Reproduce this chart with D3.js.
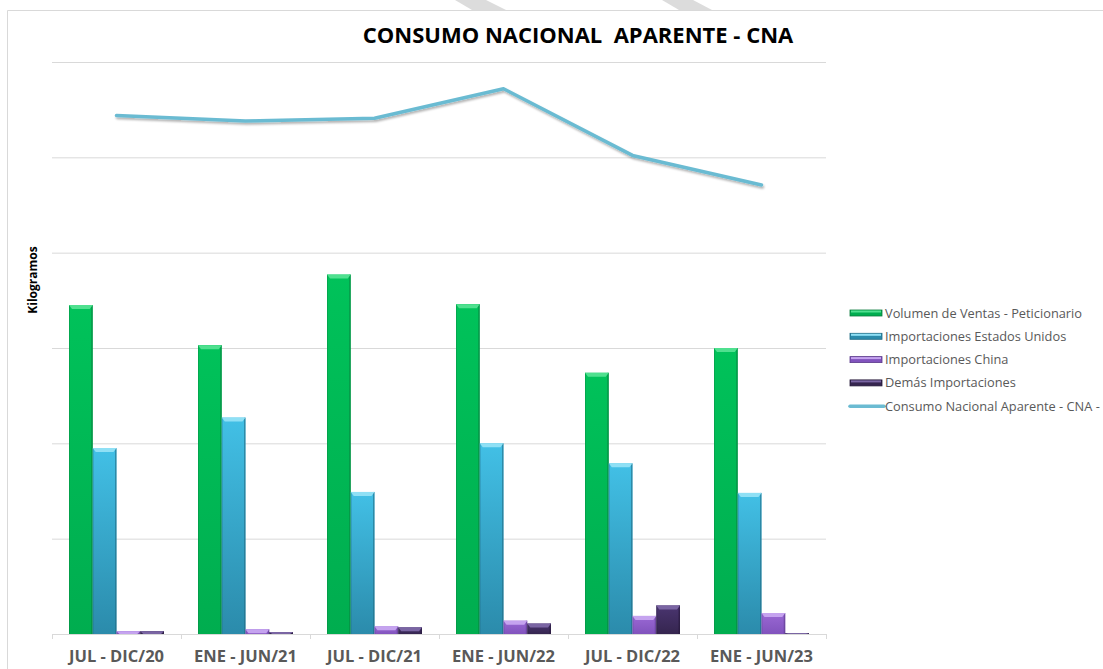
<!DOCTYPE html>
<html>
<head>
<meta charset="utf-8">
<script src="https://cdn.jsdelivr.net/npm/d3@7"></script>
<style>
  body { margin: 0; background: #fff; }
  svg { display: block; font-family: "Open Sans", sans-serif; }
</style>
</head>
<body>
<div id="chart"></div>
<script>
// Chart values (kilogram units, y axis unlabeled)
const categories = ['JUL - DIC/20', 'ENE - JUN/21', 'JUL - DIC/21', 'ENE - JUN/22', 'JUL - DIC/22', 'ENE - JUN/23'];
const ventas = [345, 303, 377, 346, 274, 300];
const importUSA = [195, 227, 149, 200, 179, 148];
const importChina = [3, 5, 8, 14, 19, 22];
const demasImport = [3, 2, 7, 11, 30, 1];
const cna = [544, 538, 541, 572, 502, 471];
const yTicks = [0, 100, 200, 300, 400, 500, 600];

const seriesNames = ['Volumen de Ventas - Peticionario', 'Importaciones Estados Unidos', 'Importaciones China', 'Demás Importaciones'];
const lineName = 'Consumo Nacional Aparente - CNA -';

const width = 1103;
const height = 669;
const plot = { left: 52, right: 826, top: 62, bottom: 634 };

const colors = [
  { top: '#00c25a', bottom: '#00ad4f', bevel: '#4fe08f', edge: '#0a7a3c' },
  { top: '#42c0e6', bottom: '#2b8bab', bevel: '#8fe0f5', edge: '#1f6a84' },
  { top: '#9a68d4', bottom: '#8153bd', bevel: '#c5a3ef', edge: '#5b3a8a' },
  { top: '#4a3570', bottom: '#35254f', bevel: '#7a65a3', edge: '#241838' }
];
const lineColor = '#6bbbd2';

const svg = d3.select('#chart')
  .append('svg')
  .attr('width', width)
  .attr('height', height);

const defs = svg.append('defs');
colors.forEach((c, i) => {
  const grad = defs.append('linearGradient')
    .attr('id', 'grad' + i)
    .attr('x1', 0).attr('y1', 0).attr('x2', 0).attr('y2', 1);
  grad.append('stop').attr('offset', '0%').attr('stop-color', c.top);
  grad.append('stop').attr('offset', '100%').attr('stop-color', c.bottom);
});
const shadow = defs.append('filter').attr('id', 'lineShadow')
  .attr('x', '-5%').attr('y', '-50%').attr('width', '110%').attr('height', '200%');
shadow.append('feDropShadow')
  .attr('dx', 1).attr('dy', 2).attr('stdDeviation', 1.2)
  .attr('flood-color', '#000').attr('flood-opacity', 0.3);

// watermark stripes above the chart frame
const stripes = [[455, 486, 506, 472], [662, 693, 712, 679]];
svg.selectAll('.stripe')
  .data(stripes)
  .enter()
  .append('polygon')
  .attr('points', d => `${d[0]},0 ${d[1]},0 ${d[2]},10 ${d[3]},10`)
  .style('fill', '#dcdcdc');

// chart frame
svg.append('path')
  .attr('d', `M7.5,${height} L7.5,10.5 L${width},10.5`)
  .style('fill', 'none')
  .style('stroke', '#d9d9d9');

// scales
const x = d3.scaleBand()
  .domain(categories)
  .range([plot.left, plot.right]);

const xInner = d3.scaleBand()
  .domain(d3.range(seriesNames.length))
  .range([17, x.bandwidth() - 17]);

const y = d3.scaleLinear()
  .domain([0, 600])
  .range([plot.bottom, plot.top]);

// gridlines
svg.append('g')
  .attr('class', 'grid')
  .attr('transform', `translate(${plot.left},0)`)
  .call(d3.axisLeft(y).tickValues(yTicks).tickSize(-(plot.right - plot.left)).tickFormat(''))
  .call(g => g.select('.domain').remove())
  .call(g => g.selectAll('line').attr('stroke', '#d9d9d9'));

// bars
const seriesData = [ventas, importUSA, importChina, demasImport];
seriesData.forEach((vals, s) => {
  const c = colors[s];
  const grp = svg.append('g').attr('class', 'series-' + s);
  vals.forEach((v, i) => {
    const bx = x(categories[i]) + xInner(s);
    const bw = xInner.bandwidth();
    const by = y(v);
    const bh = y(0) - y(v);
    grp.append('rect')
      .attr('x', bx).attr('y', by)
      .attr('width', bw).attr('height', bh)
      .style('fill', `url(#grad${s})`);
    // right edge shading
    grp.append('rect')
      .attr('x', bx + bw - 1.5).attr('y', by)
      .attr('width', 1.5).attr('height', bh)
      .style('fill', c.edge).style('opacity', 0.6);
    // left edge shading
    grp.append('rect')
      .attr('x', bx).attr('y', by)
      .attr('width', 1).attr('height', bh)
      .style('fill', c.edge).style('opacity', 0.35);
    // top bevel
    const bev = Math.min(4, bh);
    grp.append('polygon')
      .attr('points', `${bx},${by} ${bx + bw},${by} ${bx + bw - 3},${by + bev} ${bx + 3},${by + bev}`)
      .style('fill', c.bevel);
  });
});

// x axis
const xAxis = svg.append('g')
  .attr('transform', `translate(0,${plot.bottom})`);
xAxis.append('line')
  .attr('x1', plot.left).attr('x2', plot.right)
  .attr('y1', 0.5).attr('y2', 0.5)
  .style('stroke', '#d9d9d9');
xAxis.selectAll('.tick-mark')
  .data(categories.concat(['end']))
  .enter()
  .append('line')
  .attr('x1', (d, i) => plot.left + i * x.bandwidth() + 0.5)
  .attr('x2', (d, i) => plot.left + i * x.bandwidth() + 0.5)
  .attr('y1', 0).attr('y2', 5)
  .style('stroke', '#d9d9d9');
xAxis.selectAll('.cat-label')
  .data(categories)
  .enter()
  .append('text')
  .attr('x', d => x(d) + x.bandwidth() / 2)
  .attr('y', 28)
  .attr('text-anchor', 'middle')
  .style('font-size', '16.5px')
  .style('font-weight', 'bold')
  .style('fill', '#595959')
  .text(d => d);

// CNA line
const line = d3.line()
  .x((d, i) => x(categories[i]) + x.bandwidth() / 2)
  .y(d => y(d));

svg.append('path')
  .datum(cna)
  .attr('d', line)
  .style('fill', 'none')
  .style('stroke', lineColor)
  .style('stroke-width', 3.5)
  .style('stroke-linecap', 'round')
  .style('stroke-linejoin', 'round')
  .attr('filter', 'url(#lineShadow)');

// title
svg.append('text')
  .attr('x', 578)
  .attr('y', 43)
  .attr('text-anchor', 'middle')
  .style('font-size', '22px')
  .style('font-weight', 'bold')
  .style('fill', '#000')
  .text('CONSUMO NACIONAL\u00a0\u00a0APARENTE - CNA');

// y axis label
svg.append('text')
  .attr('transform', 'translate(37,280) rotate(-90)')
  .attr('text-anchor', 'middle')
  .style('font-size', '12px')
  .style('font-weight', 'bold')
  .style('fill', '#000')
  .text('Kilogramos');

// legend
const legend = svg.append('g').attr('transform', 'translate(850,313)');
const legendItems = seriesNames.concat([lineName]);
legendItems.forEach((name, i) => {
  const row = legend.append('g').attr('transform', `translate(0,${i * 23.3})`);
  if (i < seriesNames.length) {
    row.append('rect')
      .attr('x', 0).attr('y', -3)
      .attr('width', 32).attr('height', 6)
      .style('fill', colors[i].bottom)
      .style('stroke', colors[i].edge)
      .style('stroke-width', 0.8);
    row.append('rect')
      .attr('x', 1).attr('y', -2.5)
      .attr('width', 30).attr('height', 2)
      .style('fill', colors[i].bevel);
  } else {
    row.append('line')
      .attr('x1', 0).attr('x2', 34)
      .attr('y1', 0).attr('y2', 0)
      .style('stroke', lineColor)
      .style('stroke-width', 3.5)
      .style('stroke-linecap', 'round');
  }
  row.append('text')
    .attr('x', 35)
    .attr('y', 4.5)
    .style('font-size', '12.8px')
    .style('fill', '#595959')
    .text(name);
});
</script>
</body>
</html>
